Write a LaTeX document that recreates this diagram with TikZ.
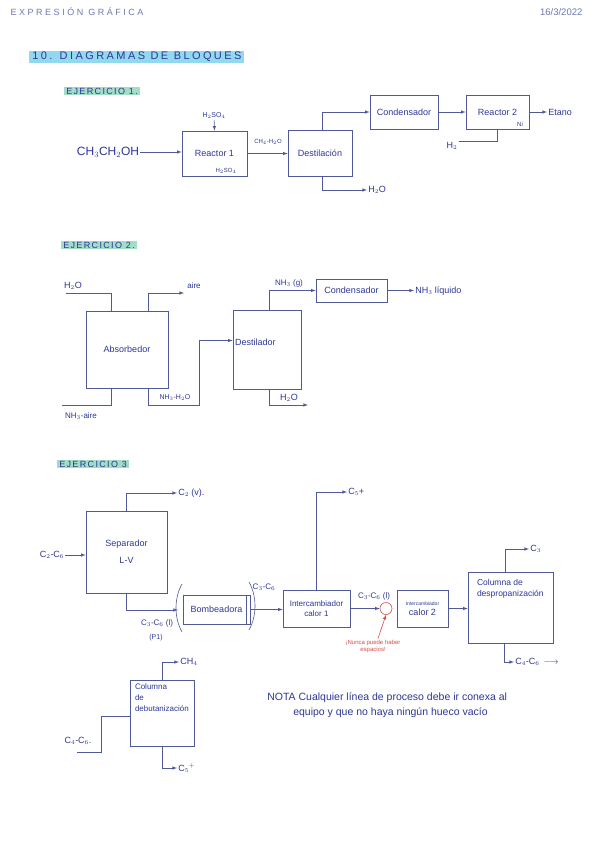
\documentclass[tikz,border=0pt]{standalone}
\usepackage{fontspec}
\setmainfont{Liberation Sans}
\definecolor{ink}{RGB}{45,55,150}
\definecolor{pen}{RGB}{80,90,150}
\definecolor{faded}{RGB}{110,120,175}
\definecolor{redink}{RGB}{215,75,75}
\definecolor{hlcyan}{RGB}{110,205,235}
\definecolor{hlmint}{RGB}{130,210,180}
\begin{document}
\begin{tikzpicture}[>=latex, x=1pt, y=-1pt, color=pen, line width=0.6pt,
  blk/.style 2 args={draw=pen, minimum width=#1, minimum height=#2, inner sep=1pt,
    text=ink, font=\fontsize{9}{10}\selectfont, align=center},
  lbl/.style={text=ink, font=\fontsize{9}{10}\selectfont, inner sep=1pt},
  sublbl/.style={text=ink, font=\fontsize{6}{7}\selectfont, inner sep=1pt},
  ejer/.style={anchor=west, fill=hlmint!75, text=ink, inner xsep=2pt, inner ysep=1pt,
    font=\fontsize{9}{10}\selectfont\addfontfeatures{LetterSpace=15}}]
\useasboundingbox[fill=white] (0,0) rectangle (599,848);
% cabecera
\node[anchor=west, text=faded, font=\fontsize{9}{10}\selectfont\addfontfeatures{LetterSpace=28}] (hdr) at (7,12) {EXPRESIÓN GRÁFICA};
\node[anchor=east, text=faded, font=\fontsize{9.5}{10}\selectfont] (fecha) at (586,12) {16/3/2022};
\node[anchor=west, fill=hlcyan!75, text=ink, inner xsep=3pt, inner ysep=1.5pt,
  font=\fontsize{11}{12}\selectfont\addfontfeatures{LetterSpace=22}] (titulo) at (29,57) {10. DIAGRAMAS DE BLOQUES};

% Ejercicio 1
\node[ejer] (ej1) at (64,91) {EJERCICIO 1.};
\node[lbl, font=\fontsize{12}{13}\selectfont] (etoh) at (108,152) {CH$_3$CH$_2$OH};
\node[blk={65pt}{45pt}] (r1) at (214.5,153.5) {Reactor 1};
\node[sublbl] (cat1) at (226,171) {H$_2$SO$_4$};
\node[lbl, font=\fontsize{7}{8}\selectfont] (h2so4) at (214,116) {H$_2$SO$_4$};
\node[blk={64pt}{46pt}] (dest) at (320,153) {Destilación};
\node[sublbl] (mezcla) at (268,142) {CH$_4$-H$_2$O};
\node[blk={68pt}{34pt}] (cond1) at (404,112) {Condensador};
\node[blk={63pt}{34pt}] (r2) at (497.5,112) {Reactor 2};
\node[sublbl] (cat2) at (520,124) {Ni};
\node[lbl, anchor=west] (etano) at (547,112) {Etano};
\node[lbl] (h2) at (452,146) {H$_2$};
\node[lbl, anchor=west] (agua1) at (367,190) {H$_2$O};
\draw[->] (etoh.east) -- (etoh.east -| r1.west);
\draw[->] (h2so4) -- (r1.north);
\draw[->] (r1.east) -- (r1.east -| dest.west);
\draw[->] ([xshift=2pt]dest.north) |- (cond1.west);
\draw[->] (cond1.east) -- (r2.west);
\draw[->] (r2.east) -- (etano.west);
\draw (h2.north east) -| (r2.south);
\draw[->] ([xshift=2pt]dest.south) |- (agua1.west);

% Ejercicio 2
\node[ejer] (ej2) at (61,245) {EJERCICIO 2.};
\node[blk={82pt}{77pt}] (abs) at (127,349.5) {Absorbedor};
\node[blk={68pt}{79pt}] (dest2) at (267,349.5) {};
\node[lbl, anchor=west] (dest2t) at ([xshift=1pt,yshift=7pt]dest2.west) {Destilador};
\node[blk={71pt}{23pt}] (cond2) at (351.5,290.5) {Condensador};
\node[lbl] (aguaAt) at (73,286) {H$_2$O};
\coordinate (aguaA) at (66,293);
\draw (aguaA) -| ([xshift=-16pt]abs.north);
\coordinate (aireA) at (184,293);
\node[lbl, font=\fontsize{8}{9}\selectfont] (aire) at (194,286) {aire};
\draw[->] ([xshift=21pt]abs.north) |- (aireA);
\coordinate (nh3A) at (62,405);
\draw ([xshift=-16pt]abs.south) |- (nh3A);
\node[lbl, font=\fontsize{8}{9}\selectfont] (nh3aire) at (81,416) {NH$_3$-aire};
\coordinate (codo) at (199,405);
\draw[->] ([xshift=21pt]abs.south) |- (codo) |- ([yshift=9pt]dest2.west);
\node[lbl, font=\fontsize{7}{8}\selectfont] (nh3agua) at (175,398) {NH$_3$-H$_2$O};
\draw[->] ([xshift=2pt]dest2.north) |- (cond2.west);
\node[lbl, font=\fontsize{8}{9}\selectfont] (nh3g) at (289,283) {NH$_3$ (g)};
\node[lbl, anchor=west] (nh3liq) at (414,291) {NH$_3$ líquido};
\draw[->] (cond2.east) -- (cond2.east -| nh3liq.west);
\coordinate (aguaB) at (308,405);
\draw[->] ([xshift=2pt]dest2.south) |- (aguaB);
\node[lbl] (aguaBt) at (289,398) {H$_2$O};

% Ejercicio 3
\node[ejer] (ej3) at (57,464) {EJERCICIO 3};
\node[blk={81pt}{82pt}] (sep) at (126.5,552) {Separador\\[7pt]L-V};
\node[lbl] (c26) at (52,555) {C$_2$-C$_6$};
\draw[->] (c26.east) -- (c26.east -| sep.west);
\node[lbl, anchor=west] (c2v) at (177,493) {C$_2$ (v).};
\draw[->] (sep.north) |- (c2v.west);
\node[blk={67pt}{29pt}] (bomb) at (216.5,609.5) {Bombeadora};
\draw ([xshift=-4pt]bomb.north east) -- ([xshift=-4pt]bomb.south east);
\draw (182,584) .. controls (174,598) and (174,618) .. (182,632);
\draw (249,582) .. controls (257,596) and (257,616) .. (249,630);
\coordinate (entB) at (178,610);
\draw[->] (sep.south) |- (entB);
\node[lbl, font=\fontsize{8}{9}\selectfont] (c36l) at (157,623) {C$_3$-C$_6$ (l)};
\node[lbl, font=\fontsize{7}{8}\selectfont] (p1) at (156,638) {(P1)};
\node[blk={67pt}{37pt}, font=\fontsize{8}{10}\selectfont] (ic1) at (316.5,608.5) {Intercambiador\\calor 1};
\draw[->] (bomb.east) -- (bomb.east -| ic1.west);
\node[lbl, font=\fontsize{8}{9}\selectfont] (c36) at (264,587) {C$_3$-C$_6$};
\node[lbl, anchor=west] (c5a) at (347,492) {C$_5$+};
\draw[->] (ic1.north) |- (c5a.west);
\node[circle, draw=redink, minimum size=12pt, inner sep=0pt] (circ) at (386,608.5) {};
\draw[->] (ic1.east) -- (circ.west);
\node[lbl, font=\fontsize{8}{9}\selectfont] (c36b) at (374,596) {C$_3$-C$_6$ (l)};
\node[blk={51pt}{37pt}] (ic2) at (422.5,608.5) {{\fontsize{5}{6}\selectfont Intercambiador}\\calor 2};
\node[text=redink, font=\fontsize{6}{7}\selectfont, align=center, inner sep=1pt] (aviso) at (373,646) {¡Nunca puede haber\\espacios!};
\draw[->, redink] ([xshift=5pt]aviso.north) -- (circ.south);
\node[blk={85pt}{71pt}] (colD) at (510.5,607.5) {};
\node[lbl, anchor=north west, align=left, font=\fontsize{8.5}{11}\selectfont] (colDt) at ([xshift=8pt,yshift=-6pt]colD.north west) {Columna de\\despropanización};
\draw[->] (ic2.east) -- (ic2.east -| colD.west);
\node[lbl, anchor=west] (c3) at (529,549) {C$_3$};
\draw[->] ([xshift=-5pt]colD.north) |- (c3.west);
\node[lbl, anchor=west] (c46) at (514,662) {C$_4$-C$_6$ \,$\longrightarrow$};
\draw[->] ([xshift=-6pt]colD.south) |- (c46.west);

\node[blk={64pt}{66pt}] (colB) at (162,713) {};
\node[lbl, anchor=north west, align=left, font=\fontsize{8}{11}\selectfont] (colBt) at ([xshift=4pt,yshift=-3pt]colB.north west) {Columna\\de\\debutanización};
\node[lbl, anchor=west] (ch4) at (179,662) {CH$_4$};
\draw[->] (colB.north) |- (ch4.west);
\node[lbl, anchor=west] (c5b) at (177,768) {C$_5$$^+$};
\draw[->] (colB.south) |- (c5b.west);
\node[lbl] (c46b) at (78,741) {C$_4$-C$_6$.};
\coordinate (c46p) at (77,752);
\coordinate (c46esq) at (101,716);
\draw (c46p) -| (c46esq) -- (c46esq -| colB.west);

% nota
\node[lbl, anchor=west, font=\fontsize{10.5}{12}\selectfont] (nota1) at (266,698) {NOTA Cualquier línea de proceso debe ir conexa al};
\node[lbl, anchor=west, font=\fontsize{10.5}{12}\selectfont] (nota2) at (292,713) {equipo y que no haya ningún hueco vacío};
\end{tikzpicture}
\end{document}
